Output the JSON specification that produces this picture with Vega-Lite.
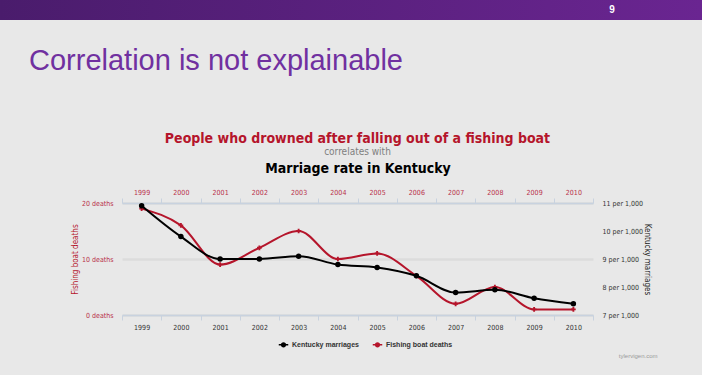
{
  "$schema": "https://vega.github.io/schema/vega-lite/v6.json",
  "background": "#e8e8e8",
  "padding": {"left": 0, "top": 0, "right": 0, "bottom": 20},
  "bounds": "flush",
  "spacing": 183,
  "config": {
    "view": {"stroke": null},
    "font": "DejaVu Sans Condensed, DejaVu Sans"
  },
  "vconcat": [
    {
      "width": 702,
      "height": 20,
      "view": {
        "stroke": null,
        "fill": {
          "gradient": "linear",
          "x1": 0, "y1": 0, "x2": 1, "y2": 0,
          "stops": [
            {"offset": 0, "color": "#4a1c6c"},
            {"offset": 1, "color": "#6a2591"}
          ]
        }
      },
      "title": {
        "text": "Correlation is not explainable",
        "orient": "bottom",
        "anchor": "start",
        "frame": "group",
        "offset": 27,
        "dx": 29,
        "color": "#7030a0",
        "font": "Liberation Sans Narrow, Liberation Sans",
        "fontSize": 29,
        "fontWeight": "normal"
      },
      "data": {"values": [{"label": "9"}]},
      "mark": {
        "type": "text",
        "dx": 261,
        "color": "#ffffff",
        "font": "Liberation Sans",
        "fontWeight": "bold",
        "fontSize": 10
      },
      "encoding": {"text": {"field": "label"}}
    },
    {
      "bounds": "flush",
      "spacing": 22,
      "hconcat": [
        {
          "width": 100,
          "height": 112,
          "data": {"values": []},
          "mark": "text",
          "encoding": {}
        },
        {
          "width": 471,
          "height": 112,
          "title": {
            "text": "People who drowned after falling out of a fishing boat",
            "subtitle": "correlates with",
            "color": "#b5152b",
            "font": "DejaVu Sans Condensed, DejaVu Sans",
            "fontWeight": "bold",
            "fontSize": 14,
            "subtitleColor": "#7f7f7f",
            "subtitleFont": "DejaVu Sans Condensed, DejaVu Sans",
            "subtitleFontSize": 10,
            "subtitlePadding": 1,
            "offset": 4,
            "anchor": "middle"
          },
          "data": {
            "values": [
              {"year": "1999", "deaths": 19, "marriages": 10.9},
              {"year": "2000", "deaths": 16, "marriages": 9.8},
              {"year": "2001", "deaths": 9, "marriages": 9.0},
              {"year": "2002", "deaths": 12, "marriages": 9.0},
              {"year": "2003", "deaths": 15, "marriages": 9.1},
              {"year": "2004", "deaths": 10, "marriages": 8.8},
              {"year": "2005", "deaths": 11, "marriages": 8.7},
              {"year": "2006", "deaths": 7, "marriages": 8.4},
              {"year": "2007", "deaths": 2, "marriages": 7.8},
              {"year": "2008", "deaths": 5, "marriages": 7.9},
              {"year": "2009", "deaths": 1, "marriages": 7.6},
              {"year": "2010", "deaths": 1, "marriages": 7.4}
            ]
          },
          "layer": [
            {
              "mark": {
                "type": "line",
                "interpolate": "monotone",
                "strokeWidth": 2,
                "point": {"shape": "cross", "size": 22, "filled": true, "color": "#b5152b"}
              },
              "encoding": {
                "x": {
                  "field": "year",
                  "type": "ordinal",
                  "scale": {"type": "band", "paddingInner": 0, "paddingOuter": 0},
                  "axis": {
                    "orient": "bottom",
                    "title": "tylervigen.com",
                    "titleAnchor": "end",
                    "titleAlign": "right",
                    "titleX": 535,
                    "titleY": 37,
                    "titleFont": "Liberation Sans",
                    "titleFontSize": 6,
                    "titleFontWeight": "normal",
                    "titleColor": "#9a9a9a",
                    "labelAngle": 0,
                    "labelColor": "#333333",
                    "labelFontSize": 7,
                    "labelPadding": 3,
                    "domainColor": "#c8d2df",
                    "domainWidth": 1.5,
                    "tickColor": "#c8d2df",
                    "tickSize": 5,
                    "tickBand": "extent",
                    "grid": false
                  }
                },
                "y": {
                  "field": "deaths",
                  "type": "quantitative",
                  "scale": {"domain": [0, 20], "nice": false, "zero": true},
                  "axis": {
                    "orient": "left",
                    "title": "Fishing boat deaths",
                    "titleColor": "#b5152b",
                    "titleFontSize": 8,
                    "titleFontWeight": "normal",
                    "titlePadding": 2,
                    "values": [0, 10, 20],
                    "labelExpr": "datum.value + ' deaths'",
                    "labelColor": "#b8304a",
                    "labelFontSize": 7,
                    "labelPadding": 9,
                    "domain": false,
                    "ticks": false,
                    "grid": true,
                    "gridColor": "#dcdcdc",
                    "gridWidth": 2.5
                  }
                },
                "color": {
                  "datum": "Fishing boat deaths",
                  "type": "nominal",
                  "scale": {
                    "domain": ["Kentucky marriages", "Fishing boat deaths"],
                    "range": ["#000000", "#b5152b"]
                  },
                  "legend": {
                    "orient": "none",
                    "legendX": 278,
                    "legendY": 339,
                    "direction": "horizontal",
                    "title": null,
                    "symbolType": "M-1,0L1,0M-0.4,0A0.4,0.4,0,1,1,0.4,0A0.4,0.4,0,1,1,-0.4,0Z",
                    "symbolSize": 90,
                    "symbolStrokeWidth": 1.5,
                    "labelFont": "Liberation Sans",
                    "labelFontWeight": "bold",
                    "labelFontSize": 7,
                    "labelColor": "#333333",
                    "labelOffset": 3,
                    "columnPadding": 10,
                    "encode": {
                      "symbols": {
                        "update": {
                          "fill": {"scale": "color", "field": "value"},
                          "stroke": {"scale": "color", "field": "value"}
                        }
                      }
                    }
                  }
                }
              }
            },
            {
              "mark": {
                "type": "line",
                "interpolate": "monotone",
                "strokeWidth": 2,
                "point": {"shape": "circle", "size": 30, "filled": true, "color": "#000000"}
              },
              "encoding": {
                "x": {
                  "field": "year",
                  "type": "ordinal",
                  "scale": {"type": "band", "paddingInner": 0, "paddingOuter": 0},
                  "axis": {
                    "orient": "top",
                    "title": "Marriage rate in Kentucky",
                    "titleFontSize": 14,
                    "titleFontWeight": "bold",
                    "titleColor": "#000000",
                    "titlePadding": 13,
                    "labelAngle": 0,
                    "labelColor": "#b8304a",
                    "labelFontSize": 7,
                    "labelPadding": 3,
                    "domainColor": "#c8d2df",
                    "domainWidth": 1.5,
                    "tickColor": "#c8d2df",
                    "tickSize": 5,
                    "tickBand": "extent",
                    "grid": false
                  }
                },
                "y": {
                  "field": "marriages",
                  "type": "quantitative",
                  "scale": {"domain": [7, 11], "nice": false, "zero": false},
                  "axis": {
                    "orient": "right",
                    "title": "Kentucky marriages",
                    "titleColor": "#222222",
                    "titleFontSize": 8,
                    "titleFontWeight": "normal",
                    "titlePadding": 0,
                    "values": [7, 8, 9, 10, 11],
                    "labelExpr": "datum.value + ' per 1,000'",
                    "labelColor": "#333333",
                    "labelFontSize": 7,
                    "labelPadding": 9,
                    "domain": false,
                    "ticks": false,
                    "grid": false
                  }
                },
                "color": {"datum": "Kentucky marriages", "type": "nominal"}
              }
            }
          ],
          "resolve": {"scale": {"y": "independent"}, "axis": {"x": "independent", "y": "independent"}}
        }
      ]
    }
  ]
}
